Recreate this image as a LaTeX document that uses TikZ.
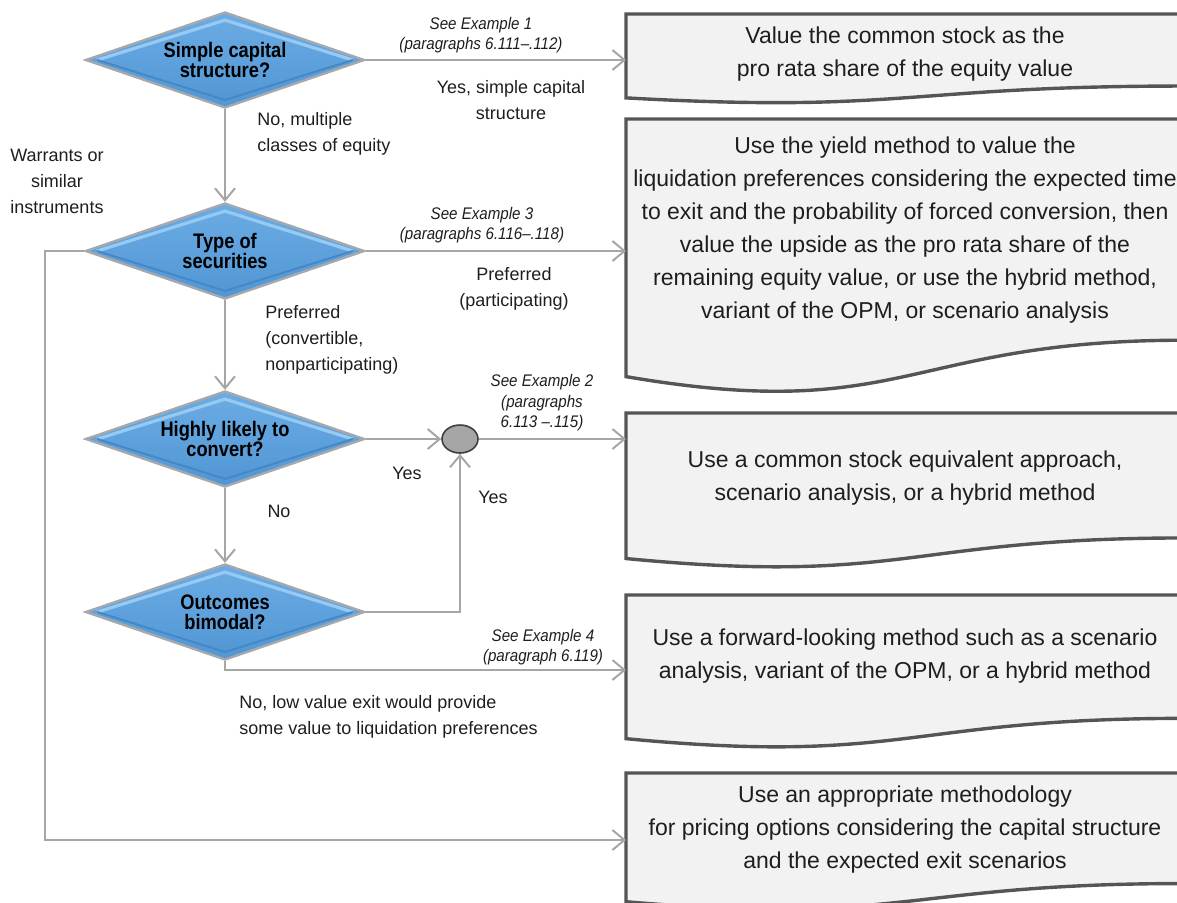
\documentclass[tikz,border=0pt]{standalone}
\usepackage{fontspec}
\setmainfont{Liberation Sans}
\newfontfamily\narrowfam{Liberation Sans}[FakeStretch=0.87]
\newfontfamily\exfam{Liberation Sans}[FakeStretch=0.9]
\usetikzlibrary{shapes.geometric,arrows.meta,calc}
\definecolor{diatop}{RGB}{108,172,228}
\definecolor{diabot}{RGB}{80,150,212}
\definecolor{dialight}{RGB}{150,202,242}
\definecolor{diadark}{RGB}{70,136,198}
\definecolor{diaedge}{RGB}{165,168,172}
\definecolor{lineGray}{RGB}{166,166,166}
\definecolor{boxfill}{RGB}{242,242,242}
\definecolor{boxedge}{RGB}{85,85,85}
\definecolor{circfill}{RGB}{166,166,166}
\definecolor{circedge}{RGB}{64,64,64}
\definecolor{txt}{RGB}{30,30,30}
\newcommand\mydocshape[1]{%
  \filldraw[docline] (#1.north west) -- (#1.north east)
    -- ($(#1.north east)!0.802!(#1.south east)$)
    .. controls ($(#1.north)!0.802!(#1.south)$) and ($(#1.north)!1.107!(#1.south)$)
    .. ($(#1.north west)!0.934!(#1.south west)$) -- cycle;}
\begin{document}
\begin{tikzpicture}[x=0.5pt,y=-0.5pt,
  decision/.style={diamond, aspect=2.9, minimum width=139.5pt, minimum height=48pt,
    inner sep=0pt, top color=diatop, bottom color=diabot, draw=diaedge, line width=1.2pt, align=center,
    font=\fontsize{10.5}{10.2}\narrowfam\bfseries, text=black,
    path picture={
      \coordinate (pw) at (path picture bounding box.west);
      \coordinate (pe) at (path picture bounding box.east);
      \coordinate (pn) at (path picture bounding box.north);
      \coordinate (ps) at (path picture bounding box.south);
      \draw[dialight, line width=1.6pt, line cap=round]
        ($(pw)!0.04!(pe)$) -- ($(pn)!0.08!(ps)$) -- ($(pe)!0.04!(pw)$);
      \draw[diadark, line width=1pt, line cap=round]
        ($(pw)!0.04!(pe)$) -- ($(ps)!0.08!(pn)$) -- ($(pe)!0.04!(pw)$);
    }},
  docframe/.style={rectangle, minimum width=279pt, inner sep=0pt, anchor=north west},
  docline/.style={draw=boxedge, fill=boxfill, line width=1.7pt},
  doctext/.style={align=center, font=\fontsize{11.5}{16.5}\selectfont, text=txt},
  lbl/.style={font=\fontsize{9}{13}\selectfont, text=txt, inner sep=0pt},
  ex/.style={font=\fontsize{8.4}{10.3}\exfam\itshape, align=center, text=txt, inner sep=0pt},
  link/.style={draw=lineGray, line width=1pt},
  arr/.style={link, -{Straight Barb[length=6pt,width=10pt]}},
  junction/.style={ellipse, minimum width=18pt, minimum height=14pt, inner sep=0pt,
    fill=circfill, draw=circedge, line width=0.8pt}
]
\useasboundingbox (0,0) rectangle (1177,902);

% decisions
\node[decision] (d1) at (225,60) {Simple capital\\structure?};
\node[decision] (d2) at (225,251) {Type of\\securities};
\node[decision] (d3) at (225,439) {Highly likely to\\convert?};
\node[decision] (d4) at (225,612) {Outcomes\\bimodal?};
\node[junction] (jc) at (460,439) {};

% document boxes
\node[docframe, minimum height=44.5pt] (b1) at (626,14) {};
\node[docframe, minimum height=137.5pt] (b2) at (626,119) {};
\node[docframe, minimum height=77.5pt] (b3) at (626,413) {};
\node[docframe, minimum height=76.5pt] (b4) at (626,595) {};
\node[docframe, minimum height=68.5pt] (b5) at (626,773) {};
\mydocshape{b1}
\mydocshape{b2}
\mydocshape{b3}
\mydocshape{b4}
\mydocshape{b5}

\node[doctext] (t1) at (905,54) {Value the common stock as the\\pro rata share of the equity value};
\node[doctext] (t2) at (905,230) {Use the yield method to value the\\liquidation preferences considering the expected time\\to exit and the probability of forced conversion, then\\value the upside as the pro rata share of the\\remaining equity value, or use the hybrid method,\\variant of the OPM, or scenario analysis};
\node[doctext] (t3) at (905,478) {Use a common stock equivalent approach,\\scenario analysis, or a hybrid method};
\node[doctext] (t4) at (905,656) {Use a forward-looking method such as a scenario\\analysis, variant of the OPM, or a hybrid method};
\node[doctext] (t5) at (905,830) {Use an appropriate methodology\\for pricing options considering the capital structure\\and the expected exit scenarios};

% connectors
\coordinate (wl) at (45,840);
\coordinate (c4) at (225,670);
\draw[arr] (d1.east) -- (d1.east -| b1.west);
\draw[arr] (d1.south) -- (d2.north);
\draw[arr] (d2.east) -- (d2.east -| b2.west);
\draw[arr] (d2.south) -- (d3.north);
\draw[arr] (d2.west) -| (wl) -- (wl -| b5.west);
\draw[arr] (d3.east) -- (jc.west);
\draw[arr] (jc.east) -- (jc.east -| b3.west);
\draw[arr] (d3.south) -- (d4.north);
\draw[arr] (d4.east) -| (jc.south);
\draw[arr] (d4.south) -- (c4) -- (c4 -| b4.west);

% labels
\node[ex] (e1) at (481,35) {See Example 1\\(paragraphs 6.111–.112)};
\node[ex] (e3) at (482,225) {See Example 3\\(paragraphs 6.116–.118)};
\node[ex] (e2) at (542,403) {See Example 2\\(paragraphs\\6.113 –.115)};
\node[ex] (e4) at (543,647) {See Example 4\\(paragraph 6.119)};

\node[lbl, align=center] (l1) at (511,100) {Yes, simple capital\\structure};
\node[lbl, align=left, anchor=west] (l2) at (257,134) {No, multiple\\classes of equity};
\node[lbl, align=center] (l3) at (57,181) {Warrants or\\similar\\instruments};
\node[lbl, align=center] (l4) at (514,289) {Preferred\\(participating)};
\node[lbl, align=left, anchor=west] (l5) at (265,340) {Preferred\\(convertible,\\nonparticipating)};
\node[lbl] (l6) at (407,473) {Yes};
\node[lbl] (l7) at (493,497) {Yes};
\node[lbl] (l8) at (279,511) {No};
\node[lbl, align=left, anchor=west] (l9) at (239,717) {No, low value exit would provide\\some value to liquidation preferences};
\end{tikzpicture}
\end{document}
